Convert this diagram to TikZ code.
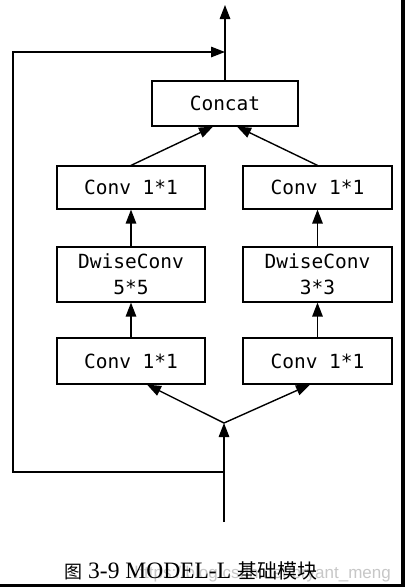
\documentclass[tikz,border=0pt]{standalone}
\usepackage{fontspec}
\setmainfont{Liberation Serif}
\setmonofont{DejaVu Sans Mono}
\newfontfamily\cjkfont{Noto Sans CJK SC}
\newfontfamily\wmfont{Liberation Sans}
\usetikzlibrary{arrows.meta,calc}
\begin{document}
\begin{tikzpicture}[x=1pt,y=-1pt,
  blk/.style={draw=black,line width=1.2pt,inner sep=0pt,align=center,
    font=\fontsize{19.5}{25}\selectfont\ttfamily},
  conn/.style={line width=1.4pt,-{Triangle[length=14pt,width=10.5pt]}},
  plain/.style={line width=1.4pt}]
\useasboundingbox (0,0) rectangle (405,587);
\fill[white] (0,0) rectangle (405,587);
% scan border
\fill[black] (401,0) rectangle (405,587);
\fill[black] (0,584) rectangle (405,587);
% boxes
\node[blk,minimum width=146pt,minimum height=45pt] (concat) at (225,103.5) {Concat};
\node[blk,minimum width=148pt,minimum height=43pt] (c1L) at (131,187.5) {Conv 1*1};
\node[blk,minimum width=149pt,minimum height=43pt] (c1R) at (317.5,187.5) {Conv 1*1};
\node[blk,minimum width=148pt,minimum height=55pt] (dwL) at (131,274.5) {DwiseConv\\[1pt]5*5};
\node[blk,minimum width=149pt,minimum height=55pt] (dwR) at (317.5,274.5) {DwiseConv\\[1pt]3*3};
\node[blk,minimum width=148pt,minimum height=46pt] (c2L) at (131,361) {Conv 1*1};
\node[blk,minimum width=149pt,minimum height=46pt] (c2R) at (317.5,361) {Conv 1*1};
% coordinates
\coordinate (top) at (225,5);
\coordinate (join) at (225,52);
\coordinate (tl) at (13,52);
\coordinate (bl) at (13,472);
\coordinate (fb) at (224,472);
\coordinate (split) at (224,423);
\coordinate (bottom) at (224,522);
\coordinate (cinL) at ($(concat.south)+(-12,0)$);
\coordinate (cinR) at ($(concat.south)+(12,0)$);
\coordinate (sL) at ($(c2L.south)+(16,0)$);
\coordinate (sR) at ($(c2R.south)+(-7.5,0)$);
% connectors
\draw[conn] (concat.north) -- (top);
\draw[conn] (fb) -- (bl) -- (tl) -- (join);
\draw[conn] (c1L.north) -- (cinL);
\draw[conn] (c1R.north) -- (cinR);
\draw[conn] (dwL.north) -- (c1L.south);
\draw[conn] (dwR.north) -- (c1R.south);
\draw[conn] (c2L.north) -- (dwL.south);
\draw[conn] (c2R.north) -- (dwR.south);
\draw[conn] (split) -- (sL);
\draw[conn] (split) -- (sR);
\draw[conn] (bottom) -- (split);
% watermark
\node[anchor=base east,inner sep=0pt,text=black!22,font=\wmfont\fontsize{17}{20}\selectfont] (wm) at (391,578) {https://blog.csdn.net/bryant\_meng};
% caption
\node[anchor=base west,inner sep=0pt,font=\cjkfont\fontsize{18}{20}\selectfont] (cap1) at (64,578) {图};
\node[anchor=base west,inner sep=0pt,font=\fontsize{23.5}{26}\selectfont] (cap2) at (88,578) {3-9 MODEL-L};
\node[anchor=base west,inner sep=0pt,font=\cjkfont\fontsize{20}{22}\selectfont] (cap3) at (237,578) {基础模块};
\end{tikzpicture}
\end{document}
